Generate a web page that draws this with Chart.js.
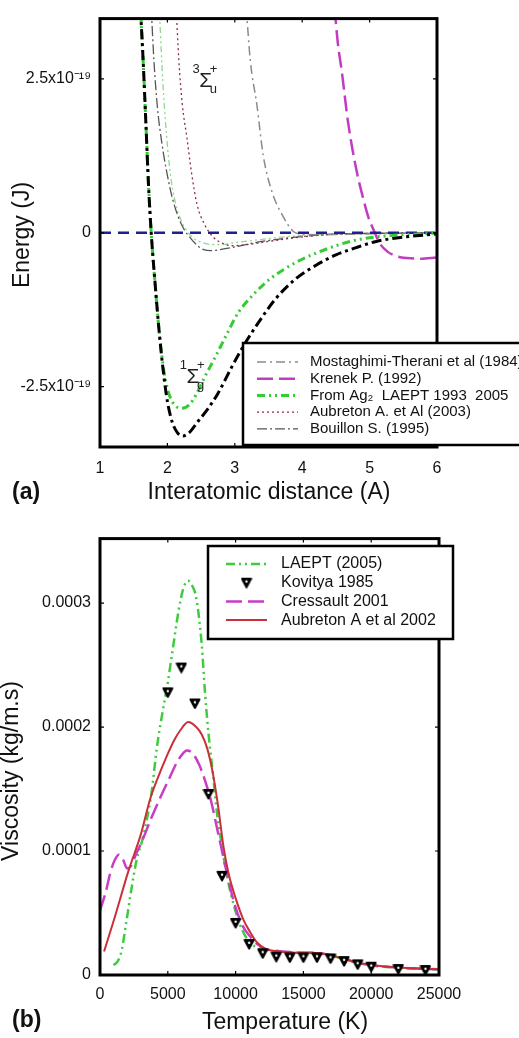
<!DOCTYPE html>
<html lang="en">
<head>
  <meta charset="UTF-8" />
  <title>Ag2 potentials and viscosity</title>
  <script src="https://cdn.jsdelivr.net/npm/chart.js"></script>
  <style>
    body { margin: 0; background: #fff; }
    .panel { position: absolute; left: 0; width: 519px; }
    #panelA { top: 0; height: 520px; }
    #panelB { top: 520px; height: 518px; }
  </style>
</head>
<body>
  <div class="panel" id="panelA"><canvas id="energyChart"></canvas></div>
  <div class="panel" id="panelB"><canvas id="viscChart"></canvas></div>

  <script>
    // ---------- (a) interaction potentials, r in angstrom, energies in 1e-19 J ----------
    const E19 = 1e-19;
    const distTicks = [1, 2, 3, 4, 5, 6];
    const energyTicks = [-2.5e-19, 0, 2.5e-19];

    const mostaghimiR = [3.17, 3.23, 3.33, 3.42, 3.55, 3.72, 3.86, 4.0, 4.3, 4.8, 5.4, 6.0];
    const mostaghimiE = [3.65, 2.8, 2.06, 1.27, 0.67, 0.26, 0.03, -0.02, -0.03, -0.02, -0.01, 0];

    const krenekR = [4.48, 4.53, 4.59, 4.68, 4.81, 4.9, 4.98, 5.07, 5.15, 5.27, 5.4, 5.55, 5.75, 6.0];
    const krenekE = [3.65, 3.07, 2.6, 1.8, 0.99, 0.58, 0.26, 0.02, -0.17, -0.31, -0.38, -0.41, -0.42, -0.4];

    const laeptSingR = [1.60, 1.64, 1.68, 1.72, 1.76, 1.82, 1.88, 1.95, 2.03, 2.12, 2.22, 2.32, 2.42, 2.55,
                        2.7, 2.88, 3.05, 3.27, 3.5, 3.75, 4.0, 4.25, 4.5, 4.75, 5.0, 5.5, 6.0];
    const laeptSingE = [3.65, 2.8, 1.8, 0.77, 0, -0.86, -1.63, -2.26, -2.64, -2.81, -2.85, -2.8, -2.64, -2.35,
                        -2.04, -1.65, -1.3, -1.01, -0.77, -0.58, -0.43, -0.31, -0.21, -0.13, -0.08, -0.03, -0.01];

    const laeptTripR = [1.88, 1.92, 1.97, 2.04, 2.12, 2.2, 2.29, 2.4, 2.5, 2.63, 2.8, 3.0, 3.3, 3.7, 4.2, 5.0, 6.0];
    const laeptTripE = [3.65, 2.7, 1.82, 0.99, 0.48, 0.21, 0.03, -0.1, -0.15, -0.19, -0.19, -0.16, -0.12, -0.07, -0.03, -0.01, 0];

    const aubretonR = [2.13, 2.17, 2.22, 2.29, 2.36, 2.44, 2.55, 2.68, 2.82, 2.97, 3.2, 3.5, 3.9, 4.4, 5.0, 6.0];
    const aubretonE = [3.65, 2.8, 2.1, 1.54, 0.96, 0.46, 0.14, -0.07, -0.17, -0.21, -0.19, -0.14, -0.08, -0.03, -0.01, 0];

    const bouillonR = [1.76, 1.80, 1.85, 1.92, 1.99, 2.07, 2.16, 2.25, 2.33, 2.43, 2.53, 2.65, 2.8, 3.0, 3.3, 3.6, 4.0, 4.5, 5.0, 6.0];
    const bouillonE = [3.65, 2.8, 2.06, 1.44, 0.99, 0.58, 0.26, 0.05, -0.07, -0.19, -0.27, -0.29, -0.27, -0.23, -0.16, -0.11, -0.06, -0.02, -0.01, 0];

    const deepWellR = [1.60, 1.64, 1.68, 1.72, 1.76, 1.82, 1.88, 1.94, 2.0, 2.07, 2.15, 2.23, 2.32, 2.45,
                       2.6, 2.75, 2.95, 3.15, 3.35, 3.6, 3.9, 4.2, 4.5, 4.8, 5.1, 5.5, 6.0];
    const deepWellE = [3.65, 2.8, 1.8, 0.77, 0, -0.86, -1.63, -2.26, -2.74, -3.07, -3.25, -3.30, -3.25, -3.07,
                       -2.86, -2.61, -2.19, -1.8, -1.46, -1.08, -0.75, -0.53, -0.36, -0.24, -0.14, -0.07, -0.02];

    // ---------- (b) viscosity, T in K, viscosity in 1e-4 kg/m.s ----------
    const V4 = 1e-4;
    const tempTicks = [0, 5000, 10000, 15000, 20000, 25000];
    const viscTicks = [0, 0.0001, 0.0002, 0.0003];

    const laeptT = [1000, 1300, 1600, 1900, 2300, 2700, 3100, 3500, 3800, 4200, 4550, 5000, 5300, 5800, 6150, 6500,
                    6800, 7100, 7500, 7750, 8000, 8350, 8600, 9000, 9400, 9900, 10500, 11000, 11600, 12200, 13000,
                    14000, 15000, 16000, 17000, 18000, 19000, 20000, 22000, 25000];
    const laeptV = [0.08, 0.11, 0.2, 0.4, 0.68, 0.93, 1.08, 1.28, 1.47, 1.84, 2.08, 2.36, 2.58, 2.94, 3.12, 3.18,
                    3.14, 3.04, 2.67, 2.27, 1.95, 1.6, 1.33, 1.03, 0.78, 0.55, 0.36, 0.27, 0.22, 0.2, 0.19,
                    0.182, 0.178, 0.175, 0.158, 0.128, 0.098, 0.078, 0.058, 0.045];

    const kovityaT = [5000, 6000, 7000, 8000, 9000, 10000, 11000, 12000, 13000, 14000, 15000, 16000, 17000, 18000,
                      19000, 20000, 22000, 24000];
    const kovityaV = [2.28, 2.48, 2.19, 1.46, 0.80, 0.42, 0.25, 0.175, 0.147, 0.142, 0.142, 0.142, 0.134, 0.112,
                      0.086, 0.067, 0.048, 0.040];

    const cressaultT = [0, 400, 800, 1100, 1400, 1700, 2000, 2300, 2600, 3100, 3800, 4400, 5000, 5600, 6000, 6400,
                        6800, 7300, 7800, 8200, 8600, 8900, 9400, 9900, 10500, 11000, 11600, 12200, 13000, 14000,
                        15000, 16000, 17000, 18000, 19000, 20000, 22000, 25000];
    const cressaultV = [0.52, 0.66, 0.84, 0.93, 0.97, 0.93, 0.86, 0.88, 0.96, 1.08, 1.27, 1.42, 1.56, 1.7, 1.77, 1.81,
                        1.79, 1.7, 1.55, 1.4, 1.2, 1.05, 0.8, 0.58, 0.4, 0.32, 0.25, 0.21, 0.195, 0.185,
                        0.18, 0.177, 0.16, 0.13, 0.1, 0.08, 0.06, 0.046];

    const aubreton02T = [300, 1100, 2100, 3000, 3700, 4300, 4900, 5500, 5900, 6500, 7100, 7500, 7900, 8300, 8700,
                         9100, 9500, 10000, 10600, 11000, 11600, 12200, 12800, 13500, 14500, 15500, 16200, 17000,
                         18000, 19000, 20000, 21000, 22000, 23500, 25000];
    const aubreton02V = [0.19, 0.47, 0.84, 1.13, 1.42, 1.6, 1.76, 1.9, 1.97, 2.04, 2.0, 1.94, 1.83, 1.64, 1.37,
                         1.04, 0.81, 0.62, 0.44, 0.36, 0.26, 0.21, 0.195, 0.185, 0.18, 0.18, 0.175, 0.16,
                         0.13, 0.1, 0.08, 0.068, 0.06, 0.052, 0.046];

    const pts = (xs, ys, k) => xs.map((x, i) => ({ x: x, y: ys[i] * k }));

    Chart.defaults.font.family = '"Liberation Sans", Arial, sans-serif';
    Chart.defaults.color = '#111';

    // heavy MATLAB-like box with short inward ticks on all four sides
    const framePlugin = {
      id: 'frame',
      afterDatasetsDraw(chart) {
        const { ctx, chartArea: a, scales } = chart;
        ctx.save();
        ctx.setLineDash([]);
        ctx.strokeStyle = '#000';
        ctx.lineWidth = 1.2;
        ctx.beginPath();
        scales.x.ticks.forEach(t => {
          const px = scales.x.getPixelForValue(t.value);
          ctx.moveTo(px, a.bottom); ctx.lineTo(px, a.bottom - 4);
          ctx.moveTo(px, a.top); ctx.lineTo(px, a.top + 4);
        });
        scales.y.ticks.forEach(t => {
          const py = scales.y.getPixelForValue(t.value);
          ctx.moveTo(a.left, py); ctx.lineTo(a.left + 4, py);
          ctx.moveTo(a.right, py); ctx.lineTo(a.right - 4, py);
        });
        ctx.stroke();
        ctx.lineWidth = 3;
        ctx.strokeRect(a.left, a.top, a.right - a.left, a.bottom - a.top);
        ctx.restore();
      }
    };

    // boxed legend drawn at a fixed spot over the plot
    const boxLegend = {
      id: 'boxLegend',
      afterDraw(chart, args, o) {
        const ctx = chart.ctx;
        ctx.save();
        ctx.fillStyle = '#fff';
        ctx.fillRect(o.left, o.top, o.width, o.height);
        ctx.setLineDash([]);
        ctx.strokeStyle = '#000';
        ctx.lineWidth = 2.5;
        ctx.strokeRect(o.left, o.top, o.width, o.height);
        ctx.font = o.font;
        ctx.textBaseline = 'middle';
        ctx.textAlign = 'left';
        chart.data.datasets.filter(d => d.label).forEach((d, i) => {
          const y = o.top + o.firstRow + i * o.rowHeight;
          if (d.showLine === false) {
            const img = d.pointStyle;
            ctx.drawImage(img, (o.sampleFrom + o.sampleTo) / 2 - img.width / 2, y - img.height / 2);
          } else {
            ctx.strokeStyle = d.borderColor;
            ctx.lineWidth = d.borderWidth;
            ctx.setLineDash(d.borderDash || []);
            ctx.beginPath();
            ctx.moveTo(o.sampleFrom, y);
            ctx.lineTo(o.sampleTo, y);
            ctx.stroke();
            ctx.setLineDash([]);
          }
          ctx.fillStyle = '#111';
          ctx.fillText(d.label, o.textX, y);
        });
        ctx.restore();
      }
    };

    // axis titles and panel letters
    const panelText = {
      id: 'panelText',
      afterDraw(chart, args, o) {
        const ctx = chart.ctx;
        (o.items || []).forEach(it => {
          ctx.save();
          ctx.font = it.font;
          ctx.fillStyle = '#111';
          ctx.textAlign = it.align || 'center';
          ctx.textBaseline = 'middle';
          ctx.translate(it.x, it.y);
          if (it.rotate) ctx.rotate(it.rotate);
          ctx.fillText(it.text, 0, 0);
          ctx.restore();
        });
      }
    };

    // molecular term symbols placed in data coordinates
    const termLabels = {
      id: 'termLabels',
      afterDatasetsDraw(chart, args, o) {
        const { ctx, scales: { x, y } } = chart;
        (o.terms || []).forEach(t => {
          const px = x.getPixelForValue(t.r), py = y.getPixelForValue(t.e);
          ctx.save();
          ctx.fillStyle = '#222';
          ctx.textBaseline = 'middle';
          ctx.textAlign = 'center';
          ctx.font = '21px "Liberation Sans"';
          ctx.fillText('\u03A3', px, py);
          ctx.font = '13px "Liberation Sans"';
          ctx.textAlign = 'right';
          ctx.fillText(t.mult, px - 6, py - 11);
          ctx.textAlign = 'left';
          ctx.fillText('+', px + 4, py - 11);
          ctx.fillText(t.sym, px + 4, py + 9);
          ctx.restore();
        });
      }
    };

    const fixedTicks = list => scale => { scale.ticks = list.map(v => ({ value: v })); };
    const hiddenGrid = { display: false, drawTicks: false };

    new Chart(document.getElementById('energyChart'), {
      type: 'line',
      data: {
        datasets: [
          { label: 'Mostaghimi-Therani et al (1984)', data: pts(mostaghimiR, mostaghimiE, E19),
            borderColor: '#8a8a8a', borderWidth: 1.5, borderDash: [9, 4, 2, 4], order: 5 },
          { label: 'Krenek P. (1992)', data: pts(krenekR, krenekE, E19),
            borderColor: '#c23cc2', borderWidth: 2.5, borderDash: [16, 6], order: 3 },
          { label: 'From Ag\u2082  LAEPT 1993  2005', data: pts(laeptSingR, laeptSingE, E19),
            borderColor: '#33cc33', borderWidth: 3, borderDash: [8, 4, 2, 4, 2, 4], order: 1 },
          { label: 'Aubreton A. et Al (2003)', data: pts(aubretonR, aubretonE, E19),
            borderColor: '#8b2c4a', borderWidth: 1.3, borderDash: [2, 3], order: 5 },
          { label: 'Bouillon S. (1995)', data: pts(bouillonR, bouillonE, E19),
            borderColor: '#555555', borderWidth: 1.3, borderDash: [10, 3, 2, 3], order: 5 },
          { data: pts(laeptTripR, laeptTripE, E19),
            borderColor: '#8fd88f', borderWidth: 1.3, borderDash: [6, 3, 2, 3, 2, 3], order: 5 },
          { data: [{ x: 1, y: 0 }, { x: 6, y: 0 }],
            borderColor: '#1f1f8f', borderWidth: 2.5, borderDash: [11, 7], order: 2 },
          { data: pts(deepWellR, deepWellE, E19),
            borderColor: '#000000', borderWidth: 3, borderDash: [10, 4, 3, 4], order: 0 }
        ]
      },
      options: {
        responsive: true,
        maintainAspectRatio: false,
        animation: false,
        layout: { padding: { top: 12, right: 82, left: 0, bottom: 0 } },
        elements: { point: { radius: 0 }, line: { cubicInterpolationMode: 'monotone', fill: false } },
        scales: {
          x: {
            type: 'linear', min: 1, max: 6,
            afterBuildTicks: fixedTicks(distTicks),
            afterFit: s => { s.height = 73; },
            grid: hiddenGrid, border: { display: false },
            ticks: { padding: 12, font: { size: 16 }, callback: v => String(v) }
          },
          y: {
            type: 'linear', min: -3.48e-19, max: 3.48e-19,
            afterBuildTicks: fixedTicks(energyTicks),
            afterFit: s => { s.width = 100; },
            grid: hiddenGrid, border: { display: false },
            ticks: {
              padding: 9, font: { size: 16 },
              callback: v => v === 0 ? '0' : (v < 0 ? '-' : '') + Math.round(Math.abs(v) / E19 * 10) / 10 + 'x10\u207B\u00B9\u2079'
            }
          }
        },
        plugins: {
          legend: { display: false },
          tooltip: { enabled: false },
          boxLegend: { left: 243, top: 343, width: 290, height: 102, firstRow: 19, rowHeight: 16.7,
                       sampleFrom: 257, sampleTo: 298, textX: 310, font: '15px "Liberation Sans"' },
          termLabels: { terms: [ { r: 2.57, e: 2.47e-19, mult: '3', sym: 'u' },
                                 { r: 2.38, e: -2.34e-19, mult: '1', sym: 'g' } ] },
          panelText: { items: [
            { text: 'Energy (J)', x: 23, y: 235, rotate: -Math.PI / 2, font: '23px "Liberation Sans"' },
            { text: 'Interatomic distance (A)', x: 269, y: 493, font: '23px "Liberation Sans"' },
            { text: '(a)', x: 12, y: 493, align: 'left', font: 'bold 23px "Liberation Sans"' }
          ] }
        }
      },
      plugins: [framePlugin, termLabels, boxLegend, panelText]
    });

    // solid inverted triangle with a small white eye, used for the Kovitya points
    function kovityaMarker() {
      const c = document.createElement('canvas');
      c.width = 12; c.height = 12;
      const g = c.getContext('2d');
      g.fillStyle = '#000';
      g.strokeStyle = '#000';
      g.lineWidth = 2;
      g.lineJoin = 'round';
      g.beginPath();
      g.moveTo(1.5, 2); g.lineTo(10.5, 2); g.lineTo(6, 10.5);
      g.closePath(); g.fill(); g.stroke();
      g.fillStyle = '#fff';
      g.beginPath(); g.arc(6, 4.8, 1.2, 0, Math.PI * 2); g.fill();
      return c;
    }

    new Chart(document.getElementById('viscChart'), {
      type: 'line',
      data: {
        datasets: [
          { label: 'LAEPT (2005)', data: pts(laeptT, laeptV, V4),
            borderColor: '#3dcc3d', borderWidth: 2.5, borderDash: [9, 4, 2, 4, 2, 4], order: 3 },
          { label: 'Kovitya 1985', data: pts(kovityaT, kovityaV, V4), showLine: false,
            pointStyle: kovityaMarker(), pointRadius: 6, order: 0 },
          { label: 'Cressault 2001', data: pts(cressaultT, cressaultV, V4),
            borderColor: '#c83cc8', borderWidth: 2.5, borderDash: [16, 6], order: 2 },
          { label: 'Aubreton A et al 2002', data: pts(aubreton02T, aubreton02V, V4),
            borderColor: '#c9303a', borderWidth: 2, order: 1 }
        ]
      },
      options: {
        responsive: true,
        maintainAspectRatio: false,
        animation: false,
        layout: { padding: { top: 17, right: 80, left: 0, bottom: 0 } },
        elements: { point: { radius: 0 }, line: { cubicInterpolationMode: 'monotone', fill: false } },
        scales: {
          x: {
            type: 'linear', min: 0, max: 25000,
            afterBuildTicks: fixedTicks(tempTicks),
            afterFit: s => { s.height = 63; },
            grid: hiddenGrid, border: { display: false },
            ticks: { padding: 10, font: { size: 16 }, callback: v => String(v) }
          },
          y: {
            type: 'linear', min: 0, max: 0.000352,
            afterBuildTicks: fixedTicks(viscTicks),
            afterFit: s => { s.width = 100; },
            grid: hiddenGrid, border: { display: false },
            ticks: { padding: 9, font: { size: 16 }, callback: v => v === 0 ? '0' : v.toFixed(4) }
          }
        },
        plugins: {
          legend: { display: false },
          tooltip: { enabled: false },
          boxLegend: { left: 208, top: 26, width: 245, height: 93, firstRow: 18, rowHeight: 18.7,
                       sampleFrom: 226, sampleTo: 267, textX: 281, font: '16px "Liberation Sans"' },
          panelText: { items: [
            { text: 'Viscosity (kg/m.s)', x: 12, y: 251, rotate: -Math.PI / 2, font: '23px "Liberation Sans"' },
            { text: 'Temperature (K)', x: 285, y: 503, font: '23px "Liberation Sans"' },
            { text: '(b)', x: 12, y: 501, align: 'left', font: 'bold 23px "Liberation Sans"' }
          ] }
        }
      },
      plugins: [framePlugin, boxLegend, panelText]
    });
  </script>
</body>
</html>
